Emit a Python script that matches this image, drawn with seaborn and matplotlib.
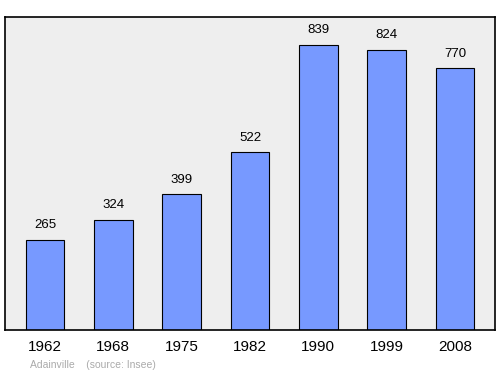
import matplotlib
matplotlib.use("Agg")
import matplotlib.pyplot as plt
import seaborn as sns
import pandas as pd

years = ["1962", "1968", "1975", "1982", "1990", "1999", "2008"]
population = [265, 324, 399, 522, 839, 824, 770]

df = pd.DataFrame({"year": years, "pop": population})

sns.set_theme(style="white")
plt.rcParams['font.family'] = ['Liberation Sans', 'DejaVu Sans']

fig = plt.figure(figsize=(5, 3.74), dpi=100)
ax = fig.add_axes([5/500, 1 - 330/374, 490/500, 313/374])
ax.set_facecolor("#eeeeee")

sns.barplot(data=df, x="year", y="pop", color="#7799ff", saturation=1,
            width=0.57, edgecolor="black", linewidth=0.8, ax=ax)

for i, v in enumerate(population):
    ax.text(i, v + 25, str(v), ha="center", va="bottom", fontsize=9.5, color="black")

ax.set_xlim(-0.585, 6.585)
ax.set_ylim(0, 920)
ax.set_yticks([])
ax.set_xlabel("")
ax.set_ylabel("")
ax.tick_params(axis="x", length=0, labelsize=11, pad=7, colors="black")
for s in ax.spines.values():
    s.set_visible(True)
    s.set_color("black")
    s.set_linewidth(1.2)

fig.text(30/500, 1 - 365/374, "Adainville    (source: Insee)", fontsize=7.5,
         color="#aaaaaa", ha="left", va="center")

fig.savefig("out.png", dpi=100)
